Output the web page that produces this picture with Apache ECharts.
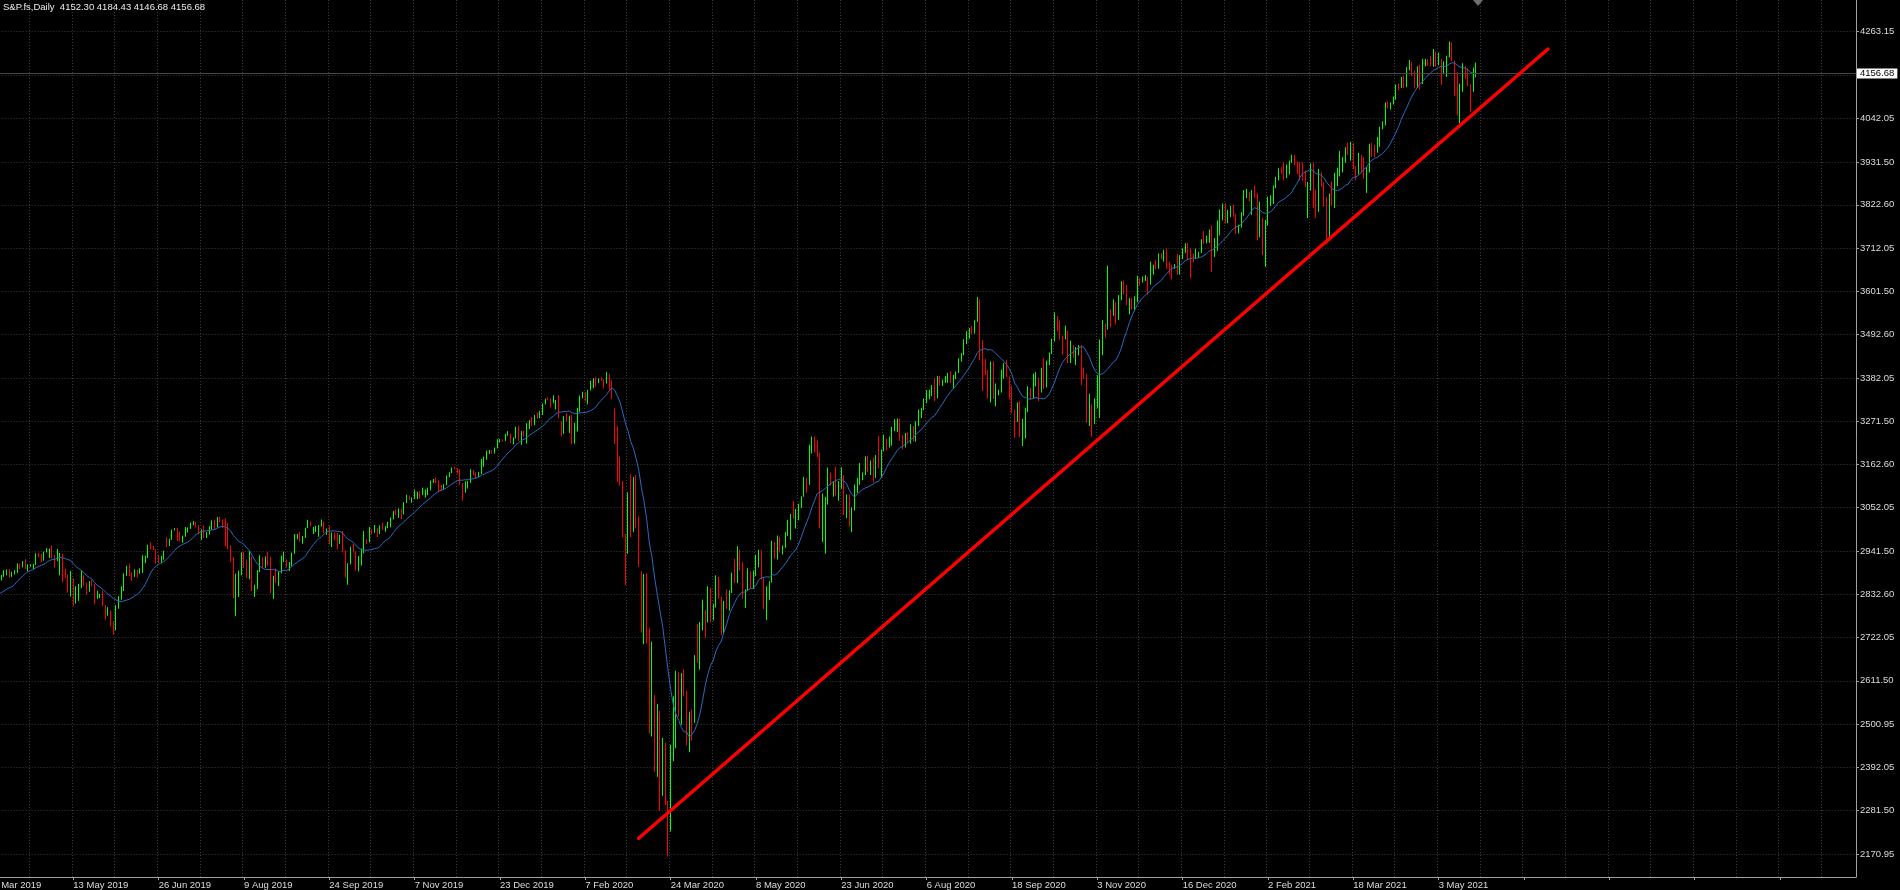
<!DOCTYPE html>
<html>
<head>
<meta charset="utf-8">
<title>S&amp;P.fs Daily</title>
<script src="https://cdn.jsdelivr.net/npm/echarts@6/dist/echarts.min.js"></script>
<style>
html,body{margin:0;padding:0;background:#000;overflow:hidden;}
#c{width:1900px;height:890px;}
</style>
</head>
<body>
<div id="c"></div>
<script>
// ---------------- DATA ----------------
const chartTitle = 'S&P.fs,Daily  4152.30 4184.43 4146.68 4156.68';
const lastPrice = 4156.68;
const maPeriod = 14;
// closes before the first drawn bar (11 Mar 2019 - 27 Mar 2019), only used to start the moving average
const warmupCloses = [2783,2792,2811,2808,2822,2833,2832,2824,2855,2801,2798,2818,2806];

const opens = [
/*2019-03*/2806,2816,
/*2019-04*/2836,2867,2867,2873,2879,2892,2895,2878,2888,2888,2907,2905,2907,2900,2905,2906,2908,2934,2927,2926,2940,2943,
/*2019-05*/2946,2924,2918,2900,2932,2884,2880,2870,2870,2812,2834,2850,2876,2860,2840,2864,2856,2823,2826,2830,2802,2783,2788,
/*2019-06*/2752,2744,2803,2826,2843,2880,2887,2885,2879,2891,2887,2889,2917,2926,2954,2950,2945,2917,2913,2924,
/*2019-07*/2965,2964,2973,2996,2998,2990,2976,2980,2993,3000,3014,3014,3004,2985,2995,2977,2986,3005,3020,3004,3026,3021,3013,
/*2019-08*/2980,2953,2925,2845,2881,2884,2938,2919,2883,2926,2840,2848,2889,2924,2900,2924,2923,2830,2878,2869,2887,2924,
/*2019-09*/2915,2906,2906,2937,2977,2979,2978,2979,3001,3009,2990,2998,3006,3006,3006,2992,2992,2966,2985,2977,2961,
/*2019-10*/2977,2941,2887,2910,2953,2939,2893,2919,2938,2970,2966,2996,2990,2998,2986,3006,2996,3005,3010,3023,3039,3036,3047,
/*2019-11*/3038,3066,3078,3075,3076,3085,3093,3087,3092,3095,3097,3120,3122,3121,3108,3103,3110,3134,3141,3153,3152,
/*2019-12*/3141,3114,3093,3113,3117,3146,3136,3133,3142,3169,3175,3192,3193,3192,3205,3221,3224,3223,3240,3240,3221,
/*2020-01*/3231,3258,3235,3246,3237,3253,3275,3265,3288,3283,3289,3317,3329,3328,3321,3321,3326,3270,3244,3276,3273,3284,
/*2020-02*/3226,3248,3298,3334,3345,3328,3352,3358,3380,3374,3380,3378,3370,3386,3373,3300,3225,3128,3116,2978,
/*2020-03*/2954,3090,3003,3130,3024,2880,2747,2882,2741,2481,2560,2386,2529,2398,2409,2290,2230,2440,2476,2630,2530,2627,
/*2020-04*/2585,2470,2527,2520,2664,2659,2750,2790,2762,2846,2783,2800,2875,2823,2737,2799,2798,2837,2878,2863,2940,
/*2020-05*/2912,2820,2843,2868,2848,2881,2930,2930,2870,2820,2852,2864,2954,2922,2972,2949,2955,2985,2992,3036,3030,
/*2020-06*/3044,3056,3081,3122,3112,3194,3232,3207,3190,3002,3000,3067,3125,3113,3115,3098,3118,3131,3050,3084,3009,3053,
/*2020-07*/3100,3116,3130,3138,3180,3145,3170,3152,3185,3155,3197,3227,3216,3225,3251,3257,3276,3236,3216,3239,3218,3258,3246,
/*2020-08*/3271,3295,3306,3327,3349,3351,3360,3333,3380,3373,3373,3381,3389,3375,3385,3397,3431,3443,3479,3484,3508,
/*2020-09*/3500,3527,3580,3455,3427,3400,3332,3399,3339,3341,3350,3384,3401,3385,3357,3300,3281,3315,3237,3246,3298,3351,3335,
/*2020-10*/3363,3381,3348,3408,3361,3419,3446,3477,3535,3512,3489,3483,3484,3427,3443,3435,3453,3465,3401,3391,3271,3310,
/*2020-11*/3270,3310,3370,3443,3510,3509,3551,3545,3572,3537,3585,3627,3610,3567,3582,3558,3578,3635,3629,3634,3638,
/*2020-12*/3622,3662,3669,3666,3699,3692,3702,3673,3668,3663,3670,3647,3695,3702,3722,3709,3695,3687,3690,3703,3735,3727,3732,
/*2021-01*/3756,3701,3726,3748,3804,3825,3799,3801,3810,3795,3768,3768,3798,3852,3853,3841,3855,3850,3751,3787,
/*2021-02*/3714,3774,3826,3830,3872,3887,3916,3911,3910,3916,3934,3945,3932,3931,3914,3907,3877,3881,3925,3829,
/*2021-03*/3811,3901,3870,3820,3768,3842,3821,3875,3898,3939,3943,3969,3963,3974,3915,3913,3940,3911,3889,3910,3975,3971,3959,
/*2021-04*/3973,4020,4030,4077,4074,4080,4097,4129,4128,4142,4124,4170,4185,4163,4135,4173,4135,4180,4188,4187,4183,4211,
/*2021-05*/4181,4192,4164,4167,4201,4232,4189,4152,4063,4113,4174,4163,4127,4115,4152.30
];
const highs = [
/*2019-03*/2820,2836,
/*2019-04*/2869,2872,2885,2881,2893,2895,2896,2889,2893,2910,2909,2916,2921,2908,2908,2909,2936,2937,2934,2940,2949,2948,
/*2019-05*/2956,2931,2947,2937,2935,2897,2882,2891,2872,2852,2858,2892,2880,2862,2865,2868,2858,2841,2833,2841,2804,2799,2790,
/*2019-06*/2763,2804,2827,2852,2885,2904,2910,2888,2895,2894,2898,2931,2930,2958,2964,2955,2947,2932,2929,2943,
/*2019-07*/2977,2973,2996,3000,3000,2991,2981,3003,3002,3014,3018,3016,3008,2997,3007,2990,3005,3020,3022,3028,3029,3022,3025,
/*2019-08*/3013,2956,2926,2884,2892,2938,2940,2920,2943,2928,2856,2893,2931,2926,2928,2939,2927,2879,2898,2890,2930,2940,
/*2019-09*/2920,2914,2938,2985,2985,2990,2980,3001,3021,3017,3003,3006,3008,3022,3017,2999,3007,2989,2989,2988,2983,
/*2019-10*/2993,2943,2911,2953,2960,2941,2929,2948,2993,2972,3003,2997,3008,3000,3007,3014,3005,3016,3027,3044,3047,3050,3049,
/*2019-11*/3066,3085,3083,3078,3098,3093,3094,3103,3098,3103,3121,3125,3128,3122,3110,3112,3134,3142,3154,3156,3153,
/*2019-12*/3150,3115,3119,3120,3150,3148,3142,3143,3176,3182,3197,3199,3198,3205,3226,3227,3226,3240,3247,3241,3231,
/*2020-01*/3258,3260,3247,3248,3267,3275,3283,3288,3295,3298,3317,3329,3333,3330,3338,3326,3338,3272,3285,3293,3286,3288,
/*2020-02*/3268,3306,3337,3347,3346,3352,3375,3381,3385,3381,3384,3379,3397,3393,3376,3305,3259,3182,3120,2985,
/*2020-03*/3091,3137,3130,3135,3030,2890,2883,2885,2745,2711,2575,2553,2535,2466,2454,2306,2449,2572,2637,2633,2631,2641,
/*2020-04*/2586,2533,2538,2677,2756,2761,2818,2792,2852,2848,2807,2880,2876,2825,2815,2844,2842,2887,2922,2954,2945,
/*2020-05*/2913,2844,2898,2891,2892,2932,2945,2945,2875,2852,2865,2968,2965,2981,2978,2956,2990,3021,3036,3068,3049,
/*2020-06*/3062,3081,3130,3128,3212,3233,3233,3223,3192,3088,3079,3154,3141,3120,3156,3120,3155,3135,3086,3086,3053,3111,
/*2020-07*/3128,3166,3142,3183,3184,3172,3180,3186,3235,3200,3238,3228,3233,3258,3277,3279,3279,3237,3242,3244,3264,3260,3272,
/*2020-08*/3302,3306,3330,3351,3352,3364,3381,3387,3387,3378,3387,3395,3399,3390,3399,3432,3445,3481,3501,3509,3514,
/*2020-09*/3529,3588,3582,3479,3430,3402,3424,3425,3368,3352,3403,3420,3428,3386,3362,3302,3320,3323,3278,3306,3361,3357,3393,
/*2020-10*/3397,3383,3408,3432,3426,3447,3482,3549,3540,3528,3490,3515,3502,3477,3465,3461,3466,3466,3409,3392,3342,3315,
/*2020-11*/3330,3389,3480,3529,3521,3668,3557,3582,3575,3593,3628,3630,3619,3585,3585,3590,3642,3637,3640,3644,3640,
/*2020-12*/3678,3670,3683,3699,3700,3708,3712,3678,3670,3672,3698,3695,3712,3725,3726,3712,3698,3711,3703,3735,3756,3744,3760,
/*2021-01*/3770,3738,3783,3811,3826,3826,3810,3820,3823,3800,3772,3804,3860,3863,3855,3860,3871,3852,3831,3790,
/*2021-02*/3784,3843,3847,3872,3894,3916,3918,3931,3925,3935,3950,3950,3933,3932,3931,3910,3881,3928,3930,3861,
/*2021-03*/3914,3906,3880,3843,3851,3882,3904,3917,3960,3944,3969,3981,3983,3980,3921,3955,3950,3943,3919,3978,3981,3975,3995,
/*2021-04*/4021,4035,4083,4086,4083,4098,4129,4131,4148,4151,4173,4191,4186,4165,4175,4179,4194,4194,4193,4201,4219,4212,
/*2021-05*/4210,4194,4188,4202,4238,4236,4190,4160,4131,4183,4176,4170,4130,4172,4184.43
];
const lows = [
/*2019-03*/2800,2814,
/*2019-04*/2836,2858,2864,2867,2876,2880,2873,2876,2882,2886,2896,2900,2896,2891,2902,2896,2906,2926,2913,2917,2938,2924,
/*2019-05*/2923,2900,2916,2880,2862,2873,2836,2826,2801,2808,2815,2848,2853,2831,2838,2852,2806,2820,2822,2801,2767,2777,2750,
/*2019-06*/2729,2740,2795,2818,2840,2878,2878,2866,2876,2874,2884,2886,2911,2924,2946,2944,2910,2912,2911,2920,
/*2019-07*/2952,2955,2970,2994,2967,2966,2963,2978,2989,2998,3008,3002,2984,2970,2975,2975,2984,2996,2996,3002,3015,3000,2954,
/*2019-08*/2946,2914,2822,2776,2825,2880,2899,2873,2870,2840,2825,2845,2888,2899,2899,2904,2834,2820,2860,2853,2885,2914,
/*2019-09*/2900,2891,2904,2935,2972,2966,2960,2975,3000,3005,2985,2990,2978,3004,2987,2983,2958,2952,2969,2946,2960,
/*2019-10*/2938,2874,2856,2908,2938,2892,2890,2905,2936,2960,2964,2984,2988,2977,2985,2995,2991,3000,3002,3022,3033,3026,3023,
/*2019-11*/3035,3064,3072,3065,3074,3074,3075,3084,3078,3084,3096,3115,3114,3091,3094,3099,3109,3130,3140,3150,3139,
/*2019-12*/3110,3070,3090,3101,3115,3135,3126,3130,3138,3156,3174,3189,3190,3190,3203,3218,3220,3222,3235,3216,3213,
/*2020-01*/3228,3222,3212,3233,3215,3252,3260,3262,3278,3280,3288,3315,3325,3307,3318,3302,3280,3234,3240,3271,3242,3214,
/*2020-02*/3215,3246,3296,3330,3322,3315,3350,3356,3360,3369,3375,3355,3368,3351,3328,3214,3118,3108,2977,2855,
/*2020-03*/2935,2977,2990,2999,2901,2734,2705,2707,2478,2470,2380,2367,2281,2319,2295,2164,2228,2407,2440,2520,2500,2572,
/*2020-04*/2447,2430,2459,2505,2657,2640,2740,2721,2760,2761,2765,2798,2821,2728,2733,2794,2790,2835,2860,2860,2892,
/*2020-05*/2821,2797,2840,2847,2845,2878,2900,2869,2794,2766,2817,2862,2922,2920,2938,2933,2950,2980,2970,3024,2999,
/*2020-06*/3020,3051,3080,3090,3110,3190,3193,3181,2999,2965,2935,3060,3108,3080,3083,3070,3100,3033,3025,3004,2990,3045,
/*2020-07*/3090,3110,3122,3135,3142,3135,3116,3128,3152,3128,3195,3198,3205,3210,3247,3245,3222,3200,3205,3216,3215,3220,3220,
/*2020-08*/3260,3280,3300,3318,3328,3336,3323,3330,3363,3362,3370,3370,3369,3354,3379,3395,3424,3440,3468,3482,3493,
/*2020-09*/3495,3525,3427,3349,3390,3330,3320,3329,3310,3338,3345,3380,3384,3328,3293,3230,3270,3232,3209,3228,3295,3327,3330,
/*2020-10*/3361,3323,3345,3354,3358,3415,3443,3475,3501,3480,3441,3480,3420,3420,3433,3415,3440,3364,3380,3268,3260,3233,
/*2020-11*/3265,3305,3280,3440,3484,3505,3511,3540,3518,3530,3580,3595,3567,3544,3556,3553,3575,3617,3625,3629,3594,
/*2020-12*/3620,3645,3658,3660,3684,3678,3660,3645,3633,3660,3645,3645,3685,3700,3685,3636,3676,3685,3688,3700,3723,3725,3726,
/*2021-01*/3652,3690,3705,3745,3783,3775,3776,3791,3792,3749,3750,3765,3795,3840,3831,3797,3840,3732,3740,3694,
/*2021-02*/3665,3770,3820,3825,3865,3885,3902,3885,3891,3900,3930,3923,3901,3885,3884,3868,3789,3859,3814,3789,
/*2021-03*/3805,3868,3818,3723,3730,3821,3815,3870,3895,3905,3930,3949,3935,3914,3885,3900,3904,3889,3853,3905,3944,3944,3955,
/*2021-04*/3970,4015,4025,4068,4065,4078,4090,4114,4120,4120,4122,4165,4150,4119,4120,4116,4130,4175,4176,4175,4174,4174,
/*2021-05*/4178,4128,4155,4148,4198,4188,4099,4050,4030,4110,4143,4125,4060,4110,4146.68
];
const closes = [
/*2019-03*/2816,2834,
/*2019-04*/2867,2867,2873,2879,2892,2895,2878,2888,2888,2907,2905,2907,2900,2905,2906,2908,2934,2927,2926,2940,2943,2946,
/*2019-05*/2924,2918,2946,2932,2884,2880,2870,2881,2812,2834,2850,2876,2860,2840,2864,2856,2823,2826,2830,2802,2783,2788,2752,
/*2019-06*/2744,2803,2826,2843,2873,2887,2885,2879,2891,2887,2889,2917,2926,2954,2950,2945,2917,2913,2924,2942,
/*2019-07*/2964,2973,2996,2998,2990,2976,2980,2993,3000,3014,3014,3004,2985,2995,2977,2986,3005,3020,3004,3026,3021,3013,2980,
/*2019-08*/2953,2932,2845,2881,2884,2938,2919,2883,2926,2840,2848,2889,2924,2900,2924,2923,2847,2878,2869,2887,2924,2926,
/*2019-09*/2906,2906,2937,2977,2979,2978,2979,3001,3009,3007,2998,3006,3006,3006,2992,2992,2966,2985,2977,2961,2977,
/*2019-10*/2941,2887,2910,2953,2939,2893,2919,2938,2970,2966,2996,2990,2998,2986,3006,2996,3005,3010,3023,3039,3036,3047,3038,
/*2019-11*/3066,3078,3075,3076,3085,3093,3087,3092,3095,3097,3120,3122,3121,3108,3103,3110,3134,3141,3153,3152,3141,
/*2019-12*/3114,3093,3113,3117,3146,3136,3133,3142,3169,3169,3192,3193,3192,3205,3221,3224,3223,3240,3240,3221,3231,
/*2020-01*/3258,3235,3246,3237,3253,3275,3265,3288,3283,3289,3317,3329,3328,3321,3321,3326,3295,3244,3276,3273,3284,3226,
/*2020-02*/3248,3298,3334,3345,3328,3352,3358,3380,3374,3380,3378,3370,3386,3373,3338,3225,3128,3116,2978,2954,
/*2020-03*/3090,3003,3130,3024,2972,2747,2882,2741,2481,2711,2386,2529,2398,2409,2305,2230,2440,2476,2630,2541,2627,2585,
/*2020-04*/2470,2527,2489,2664,2659,2750,2790,2762,2846,2783,2800,2875,2823,2737,2799,2798,2837,2878,2863,2940,2912,
/*2020-05*/2831,2843,2868,2848,2881,2930,2930,2870,2820,2852,2864,2954,2922,2972,2949,2955,2985,2992,3036,3030,3044,
/*2020-06*/3056,3081,3122,3112,3194,3232,3207,3190,3002,3041,3067,3125,3113,3115,3098,3118,3131,3050,3084,3009,3053,3100,
/*2020-07*/3116,3130,3138,3180,3145,3170,3152,3185,3155,3197,3227,3216,3225,3251,3257,3276,3236,3216,3239,3218,3258,3246,3271,
/*2020-08*/3295,3306,3327,3349,3351,3360,3333,3380,3373,3373,3381,3389,3375,3385,3397,3431,3443,3479,3484,3508,3500,
/*2020-09*/3527,3580,3455,3427,3400,3332,3399,3339,3341,3350,3384,3401,3385,3357,3319,3281,3315,3237,3246,3298,3351,3335,3363,
/*2020-10*/3381,3348,3408,3361,3419,3446,3477,3535,3512,3489,3483,3484,3427,3443,3435,3453,3465,3401,3391,3271,3310,3270,
/*2020-11*/3310,3370,3443,3510,3509,3551,3545,3572,3537,3585,3627,3610,3567,3582,3558,3578,3635,3629,3634,3638,3622,
/*2020-12*/3662,3669,3666,3699,3692,3702,3673,3668,3663,3670,3647,3695,3702,3722,3709,3695,3687,3690,3703,3735,3727,3732,3756,
/*2021-01*/3701,3726,3748,3804,3825,3799,3801,3810,3795,3768,3768,3798,3852,3853,3841,3855,3850,3751,3787,3714,
/*2021-02*/3774,3826,3830,3872,3887,3916,3911,3910,3916,3934,3945,3932,3931,3914,3907,3877,3881,3925,3829,3811,
/*2021-03*/3901,3870,3820,3768,3842,3821,3875,3898,3939,3943,3969,3963,3974,3915,3913,3940,3911,3889,3910,3975,3971,3959,3973,
/*2021-04*/4020,4030,4077,4074,4080,4097,4129,4128,4142,4124,4170,4185,4163,4135,4173,4135,4180,4188,4187,4183,4211,4181,
/*2021-05*/4192,4164,4167,4201,4232,4189,4152,4063,4113,4174,4163,4127,4115,4159,4156.68
];

// trading-calendar rules for the category axis
const firstBarDate = '2019-03-28';
const lastBarDate = '2021-05-21';
const closedDates = ['2019-12-25','2020-01-01','2020-04-10','2020-12-25','2021-01-01'];
const extraBarDates = ['2020-09-13','2020-12-13'];
const futureSlots = 142; // empty bars to the right of the last candle (chart shift)

// x-axis labels, one every 32 bars starting at the first bar
const xTickLabels = ['28 Mar 2019','13 May 2019','26 Jun 2019','9 Aug 2019','24 Sep 2019','7 Nov 2019',
  '23 Dec 2019','7 Feb 2020','24 Mar 2020','8 May 2020','23 Jun 2020','6 Aug 2020','18 Sep 2020',
  '3 Nov 2020','16 Dec 2020','2 Feb 2021','18 Mar 2021','3 May 2021'];
const xLabelEvery = 32;
const xGridEvery = 16;

// price scale labels
const yTickValues = [2170.95,2281.50,2392.05,2500.95,2611.50,2722.05,2832.60,2941.50,3052.05,3162.60,
  3271.50,3382.05,3492.60,3601.50,3712.05,3822.60,3931.50,4042.05,4152.60,4263.15];
const yMin = 2112.4, yMax = 4343.8;

// hand-drawn trend line anchors: [bar index, price]
const trendLine = [[244, 2211], [585, 4219]];

// ---------------- BUILD ----------------
function iso(t){ return new Date(t).toISOString().slice(0,10); }
const categories = [];
{
  let t = Date.parse(firstBarDate + 'T00:00:00Z');
  const end = Date.parse(lastBarDate + 'T00:00:00Z');
  while (t <= end) {
    const d = new Date(t), dow = d.getUTCDay(), s = iso(t);
    if ((dow >= 1 && dow <= 5 && closedDates.indexOf(s) < 0) || extraBarDates.indexOf(s) >= 0) categories.push(s);
    t += 86400000;
  }
  let k = 0;
  while (k < futureSlots) {
    t += 86400000;
    const dow = new Date(t).getUTCDay();
    if (dow >= 1 && dow <= 5) { categories.push(iso(t)); k++; }
  }
}
if (categories.length - futureSlots !== closes.length) console.error('calendar mismatch', categories.length - futureSlots, closes.length);

const candleData = closes.map((c, i) => [opens[i], c, lows[i], highs[i]]);
const allCloses = warmupCloses.concat(closes);
const maData = closes.map((_, i) => {
  const j = i + warmupCloses.length;
  let s = 0;
  for (let k = j - maPeriod + 1; k <= j; k++) s += allCloses[k];
  return +(s / maPeriod).toFixed(2);
});

const FONT = '"Liberation Sans", Arial, sans-serif';
const TXT = '#dcdcdc';
const AXIS = '#a0a0a0';
const GRIDC = '#3a3a3a';

const chart = echarts.init(document.getElementById('c'), null, {renderer: 'canvas', width: 1900, height: 890});
chart.setOption({
  backgroundColor: '#000000',
  animation: false,
  textStyle: {fontFamily: FONT},
  grid: {left: -13.333, right: 44, top: 0, bottom: 13, containLabel: false, outerBoundsMode: 'none'},
  graphic: [
    {type: 'text', left: 3, top: 2, z: 100,
     style: {text: chartTitle, fill: '#ececec', font: '9.5px ' + FONT}},
    {type: 'polygon', z: 100,
     shape: {points: [[1473, 0], [1483, 0], [1478, 6]]},
     style: {fill: '#6e6e6e'}}
  ],
  xAxis: {
    type: 'category',
    data: categories,
    boundaryGap: true,
    axisLine: {show: true, lineStyle: {color: AXIS, width: 1}},
    axisTick: {show: true, interval: xLabelEvery - 1, alignWithLabel: true, length: 3, lineStyle: {color: AXIS}},
    axisLabel: {
      show: true,
      interval: xLabelEvery - 1,
      align: 'left',
      margin: 3,
      color: TXT,
      fontSize: 9.5,
      fontFamily: FONT,
      hideOverlap: false,
      formatter: function (v, i) { const k = i / xLabelEvery; return xTickLabels[k] || ''; }
    },
    splitLine: {show: true, interval: xGridEvery - 1, lineStyle: {color: GRIDC, type: [1, 2], width: 1}}
  },
  yAxis: {
    type: 'value',
    position: 'right',
    min: yMin,
    max: yMax,
    axisLine: {show: true, lineStyle: {color: AXIS, width: 1}},
    axisTick: {show: true, length: 3, customValues: yTickValues, lineStyle: {color: AXIS}},
    axisLabel: {
      show: true,
      customValues: yTickValues,
      margin: 4,
      color: TXT,
      fontSize: 9.5,
      fontFamily: FONT,
      formatter: function (v) { return v.toFixed(2); }
    },
    splitLine: {show: true, lineStyle: {color: GRIDC, type: [1, 2], width: 1}}
  },
  series: [
    {
      name: 'S&P.fs',
      type: 'candlestick',
      data: candleData,
      barWidth: 1.2,
      large: false,
      silent: true,
      itemStyle: {
        color: '#00ff00', color0: '#ff0000',
        borderColor: '#00ff00', borderColor0: '#ff0000',
        borderColorDoji: '#00ff00',
        borderWidth: 1
      },
      markLine: {
        silent: true,
        symbol: ['none', 'none'],
        animation: false,
        lineStyle: {color: '#474747', width: 1, type: 'solid'},
        label: {
          show: true, position: 'end', distance: 1,
          formatter: lastPrice.toFixed(2),
          backgroundColor: '#ffffff', color: '#000000',
          fontSize: 9.5, fontFamily: FONT, lineHeight: 10,
          padding: [0, 3, 0, 3]
        },
        data: [{yAxis: lastPrice}]
      }
    },
    {
      name: 'MA' + maPeriod,
      type: 'line',
      data: maData,
      showSymbol: false,
      symbol: 'none',
      silent: true,
      z: 3,
      lineStyle: {color: '#2a6ac4', width: 1},
      markLine: {
        silent: true,
        symbol: ['none', 'none'],
        animation: false,
        label: {show: false},
        lineStyle: {color: '#ff0000', width: 3.5, type: 'solid', cap: 'round'},
        data: [[{coord: trendLine[0]}, {coord: trendLine[1]}]]
      }
    }
  ]
});
</script>
</body>
</html>
